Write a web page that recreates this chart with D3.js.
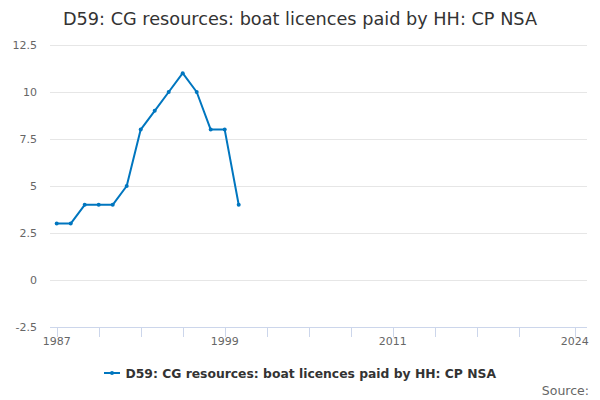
<!DOCTYPE html>
<html>
<head>
<meta charset="utf-8">
<script src="https://cdn.jsdelivr.net/npm/d3@7"></script>
<style>
  body { margin: 0; background: #fff; }
  svg { font-family: 'DejaVu Sans', sans-serif; display: block; }
</style>
</head>
<body>
<div id="chart"></div>
<script>
// series: boat licences paid by HH, one value per year
const years = [1987, 1988, 1989, 1990, 1991, 1992, 1993, 1994, 1995, 1996, 1997, 1998, 1999, 2000];
const values = [3, 3, 4, 4, 4, 5, 8, 9, 10, 11, 10, 8, 8, 4];
const yTicks = [-2.5, 0, 2.5, 5, 7.5, 10, 12.5];
const xTicks = [1987, 1990, 1993, 1996, 1999, 2002, 2005, 2008, 2011, 2014, 2017, 2020, 2024];
const xLabels = [1987, 1999, 2011, 2024];
const title = 'D59: CG resources: boat licences paid by HH: CP NSA';

const W = 600, H = 400;
const color = '#0076bf';

const svg = d3.select('#chart').append('svg')
  .attr('width', W).attr('height', H);

const x = d3.scaleLinear().domain([1987, 2024]).range([56.7, 574.7]);
const y = d3.scaleLinear().domain([-2.5, 12.5]).range([327, 45]);

// grid
svg.append('g').selectAll('line')
  .data(yTicks.filter(d => d !== -2.5)).enter().append('line')
  .attr('x1', 50).attr('x2', 587)
  .attr('y1', d => y(d) + 0.5).attr('y2', d => y(d) + 0.5)
  .attr('stroke', '#e6e6e6').attr('stroke-width', 1);

// y labels
svg.append('g').selectAll('text')
  .data(yTicks).enter().append('text')
  .attr('x', 37).attr('y', d => y(d) + 4)
  .attr('text-anchor', 'end')
  .attr('font-size', 11).attr('fill', '#666')
  .text(d => d);

// x axis
const xa = svg.append('g');
xa.append('line')
  .attr('x1', 50).attr('x2', 587)
  .attr('y1', 327.5).attr('y2', 327.5)
  .attr('stroke', '#ccd6eb');
xa.selectAll('line.tick')
  .data(xTicks).enter().append('line').attr('class', 'tick')
  .attr('x1', d => Math.round(x(d)) + 0.5).attr('x2', d => Math.round(x(d)) + 0.5)
  .attr('y1', 327).attr('y2', 337)
  .attr('stroke', '#ccd6eb');
xa.selectAll('text')
  .data(xLabels).enter().append('text')
  .attr('x', d => x(d)).attr('y', 345)
  .attr('text-anchor', 'middle')
  .attr('font-size', 11).attr('fill', '#666')
  .text(d => d);

// line
const pts = years.map((yr, i) => [yr, values[i]]);
svg.append('path')
  .datum(pts)
  .attr('d', d3.line().x(d => x(d[0])).y(d => y(d[1])))
  .attr('fill', 'none').attr('stroke', color)
  .attr('stroke-width', 2).attr('stroke-linejoin', 'round');
svg.append('g').selectAll('circle')
  .data(pts).enter().append('circle')
  .attr('cx', d => x(d[0])).attr('cy', d => y(d[1]))
  .attr('r', 2).attr('fill', color);

// title
svg.append('text')
  .attr('x', W / 2).attr('y', 25)
  .attr('text-anchor', 'middle')
  .attr('font-size', 17.7).attr('fill', '#333')
  .text(title);

// legend
const lg = svg.append('g');
lg.append('line')
  .attr('x1', 104).attr('x2', 120).attr('y1', 373).attr('y2', 373)
  .attr('stroke', color).attr('stroke-width', 2);
lg.append('circle').attr('cx', 112).attr('cy', 373).attr('r', 2).attr('fill', color);
lg.append('text')
  .attr('x', 125.5).attr('y', 378)
  .attr('font-size', 12.35).attr('font-weight', 'bold').attr('fill', '#333')
  .text(title);

// source
svg.append('text')
  .attr('x', 589).attr('y', 395)
  .attr('text-anchor', 'end')
  .attr('font-size', 12.5).attr('fill', '#666')
  .text('Source:');
</script>
</body>
</html>
